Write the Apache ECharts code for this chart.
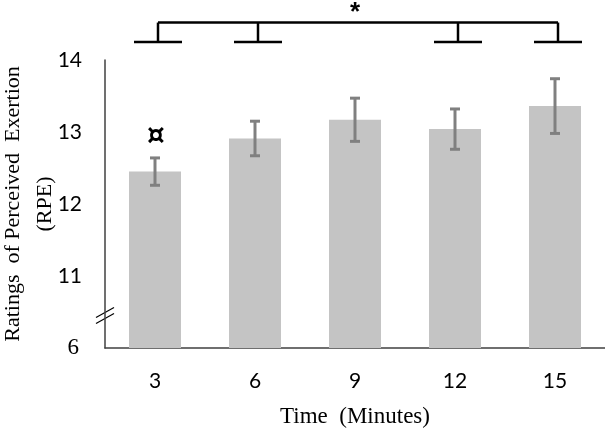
<!DOCTYPE html>
<html>
<head>
<meta charset="utf-8">
<script src="https://cdn.jsdelivr.net/npm/echarts@6/dist/echarts.min.js"></script>
<style>
  html, body { margin: 0; padding: 0; background: #fff; }
  #chart { width: 605px; height: 431px; }
</style>
</head>
<body>
<div id="chart"></div>
<script>
// data
const categories = ['3', '6', '9', '12', '15'];
const rpeMean = [12.45, 12.91, 13.17, 13.04, 13.36];
const rpeErr = [0.19, 0.24, 0.30, 0.28, 0.38];
// axis is broken: the bottom tick (drawn at 10) is labelled 6
const yTickLabels = { 10: '6', 11: '11', 12: '12', 13: '13', 14: '14' };
const bracketCats = ['3', '6', '12', '15'];
const yTitle = 'Ratings  of Perceived  Exertion\n(RPE)';

const serif = '"Liberation Serif", "DejaVu Serif", serif';
const sans = 'Lato, "Liberation Sans", sans-serif';
const axisColor = '#404040';

const chart = echarts.init(document.getElementById('chart'));

chart.setOption({
  animation: false,
  grid: { left: 105, right: 0, top: 60, bottom: 83, containLabel: false, outerBoundsMode: 'none' },
  xAxis: {
    type: 'category',
    data: categories,
    name: 'Time  (Minutes)',
    nameLocation: 'middle',
    nameGap: 57,
    nameTextStyle: { fontFamily: serif, fontSize: 23, color: '#000' },
    axisLine: { lineStyle: { color: axisColor, width: 1.5 } },
    axisTick: { show: false },
    axisLabel: { margin: 23, fontFamily: sans, fontSize: 21, color: '#000' },
  },
  yAxis: {
    type: 'value',
    min: 10,
    max: 14,
    interval: 1,
    axisLine: { show: true, lineStyle: { color: axisColor, width: 1.5 } },
    axisTick: { show: false },
    splitLine: { show: false },
    axisLabel: {
      margin: 23,
      formatter: v => v === 10 ? '{s|' + yTickLabels[v] + '}' : '{n|' + yTickLabels[v] + '}',
      rich: {
        n: { fontFamily: sans, fontSize: 21, color: '#000' },
        s: { fontFamily: serif, fontSize: 23, color: '#000', padding: [0, 3, 0, 0] },
      },
    },
  },
  series: [
    {
      name: 'RPE',
      type: 'bar',
      data: rpeMean,
      barWidth: 52,
      itemStyle: { color: '#c4c4c4' },
    },
    {
      name: 'SD',
      type: 'custom',
      data: rpeMean.map((m, i) => [i, m - rpeErr[i], m + rpeErr[i]]),
      z: 5,
      renderItem: (params, api) => {
        const lo = api.coord([api.value(0), api.value(1)]);
        const hi = api.coord([api.value(0), api.value(2)]);
        const hw = 5;
        const style = { stroke: '#808080', lineWidth: 3 };
        return {
          type: 'group',
          children: [
            { type: 'line', shape: { x1: hi[0], y1: hi[1], x2: lo[0], y2: lo[1] }, style },
            { type: 'line', shape: { x1: hi[0] - hw, y1: hi[1], x2: hi[0] + hw, y2: hi[1] }, style },
            { type: 'line', shape: { x1: lo[0] - hw, y1: lo[1], x2: lo[0] + hw, y2: lo[1] }, style },
          ],
        };
      },
    },
  ],
});

// annotations: y title, significance bracket, star, currency mark, axis break
const px = (c, v) => chart.convertToPixel({ gridIndex: 0 }, [c, v]);
const graphics = [];
graphics.push({
  type: 'text',
  x: 29, y: (px(categories[0], 10)[1] + px(categories[0], 14)[1]) / 2,
  rotation: Math.PI / 2,
  style: { text: yTitle, font: '22px ' + serif, fill: '#000', align: 'center', verticalAlign: 'middle', lineHeight: 32 },
});
const topY = px(categories[0], 14.52)[1];
const footY = px(categories[0], 14.25)[1];
const lineStyle = { stroke: '#000', lineWidth: 2.5 };
const xs = bracketCats.map(c => px(c, 14)[0] + 3);
graphics.push({ type: 'line', shape: { x1: xs[0], y1: topY, x2: xs[xs.length - 1], y2: topY }, style: lineStyle });
xs.forEach(x => {
  graphics.push({ type: 'line', shape: { x1: x, y1: topY, x2: x, y2: footY }, style: lineStyle });
  graphics.push({ type: 'line', shape: { x1: x - 24, y1: footY, x2: x + 24, y2: footY }, style: lineStyle });
});
graphics.push({
  type: 'text',
  x: (xs[0] + xs[xs.length - 1]) / 2 - 3, y: topY - 10,
  style: { text: '*', font: 'bold 26px "Liberation Sans", sans-serif', fill: '#000', align: 'center', verticalAlign: 'middle' },
});
const cur = px(categories[0], rpeMean[0] + rpeErr[0]);
graphics.push({
  type: 'text',
  x: cur[0] + 1, y: cur[1] - 21,
  style: { text: '¤', font: 'bold 28px "DejaVu Sans", sans-serif', fill: '#000', align: 'center', verticalAlign: 'middle' },
});
const brk = px(categories[0], 10.45);
const axisX = px(categories[0], 10)[0] - 50;
[-3, 3].forEach(d => {
  graphics.push({
    type: 'line',
    shape: { x1: axisX - 9, y1: brk[1] + 5 + d, x2: axisX + 9, y2: brk[1] - 5 + d },
    style: { stroke: '#000', lineWidth: 1.2 },
  });
});
chart.setOption({ graphic: graphics });
</script>
</body>
</html>
